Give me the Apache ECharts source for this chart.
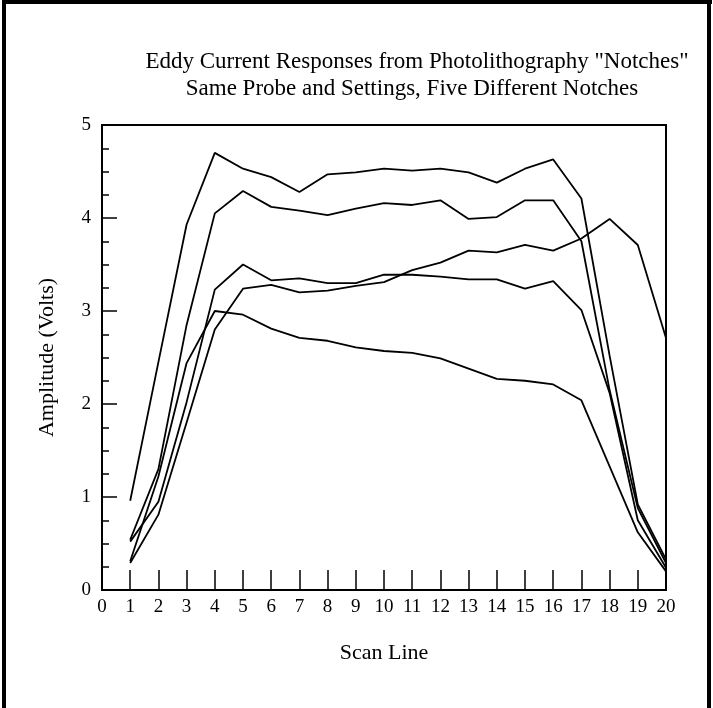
<!DOCTYPE html>
<html>
<head>
<meta charset="utf-8">
<script src="https://cdn.jsdelivr.net/npm/echarts@6/dist/echarts.min.js"></script>
<style>
  html, body { margin: 0; padding: 0; background: #fff; }
  #chart { width: 713px; height: 708px; }
</style>
</head>
<body>
<div id="chart"></div>
<script>
// scan line numbers
const scanLines = [1, 2, 3, 4, 5, 6, 7, 8, 9, 10, 11, 12, 13, 14, 15, 16, 17, 18, 19, 20]

// amplitude (volts) for the five notches
const notchA = [0.96, 2.45, 3.93, 4.70, 4.53, 4.44, 4.28, 4.47, 4.49, 4.53, 4.51, 4.53, 4.49, 4.38, 4.53, 4.63, 4.21, 2.52, 0.92, 0.33]
const notchB = [0.54, 1.30, 2.85, 4.05, 4.29, 4.12, 4.08, 4.03, 4.10, 4.16, 4.14, 4.19, 3.99, 4.01, 4.19, 4.19, 3.75, 2.15, 0.88, 0.29]
const notchC = [0.52, 0.95, 2.02, 3.23, 3.50, 3.33, 3.35, 3.30, 3.30, 3.39, 3.39, 3.37, 3.34, 3.34, 3.24, 3.32, 3.01, 2.12, 0.75, 0.24]
const notchD = [0.29, 0.81, 1.80, 2.80, 3.24, 3.28, 3.20, 3.22, 3.27, 3.31, 3.44, 3.52, 3.65, 3.63, 3.71, 3.65, 3.78, 3.99, 3.71, 2.71]
const notchE = [0.31, 1.22, 2.44, 3.00, 2.96, 2.81, 2.71, 2.68, 2.61, 2.57, 2.55, 2.49, 2.38, 2.27, 2.25, 2.21, 2.04, 1.33, 0.62, 0.20]

const titleLines = ['Eddy Current Responses from Photolithography "Notches"', 'Same Probe and Settings, Five Different Notches']

const font = '"Liberation Serif", "Times New Roman", serif'

function makeSeries(values) {
  return {
    type: 'line',
    data: scanLines.map((x, i) => [x, values[i]]),
    showSymbol: false,
    symbol: 'none',
    lineStyle: { color: '#000', width: 1.8 },
    animation: false
  }
}

const chart = echarts.init(document.getElementById('chart'))
chart.setOption({
  backgroundColor: '#fff',
  textStyle: { fontFamily: font, color: '#000' },
  graphic: [
    // frame round the figure
    { type: 'rect', shape: { x: 2, y: 0, width: 4, height: 708 }, style: { fill: '#000' } },
    { type: 'rect', shape: { x: 2, y: 0, width: 710, height: 4 }, style: { fill: '#000' } },
    { type: 'rect', shape: { x: 707, y: 0, width: 4, height: 708 }, style: { fill: '#000' } },
    {
      type: 'text',
      style: { text: titleLines[0], x: 417, y: 62, textAlign: 'center', textVerticalAlign: 'middle', font: '23px ' + font, fill: '#000' }
    },
    {
      type: 'text',
      style: { text: titleLines[1], x: 412, y: 89, textAlign: 'center', textVerticalAlign: 'middle', font: '23px ' + font, fill: '#000' }
    }
  ],
  grid: {
    left: 102, right: 47, top: 125, bottom: 118,
    show: true, borderColor: '#000', borderWidth: 2, backgroundColor: 'transparent'
  },
  xAxis: {
    type: 'value', min: 0, max: 20, interval: 1,
    name: 'Scan Line', nameLocation: 'middle', nameGap: 52,
    nameTextStyle: { fontFamily: font, fontSize: 22, color: '#000' },
    axisLine: { lineStyle: { color: '#000', width: 2 } },
    axisTick: { inside: true, length: 20, lineStyle: { color: '#000', width: 1.5 } },
    axisLabel: { fontFamily: font, fontSize: 19, color: '#000', margin: 8 },
    splitLine: { show: false }
  },
  yAxis: {
    type: 'value', min: 0, max: 5, interval: 1,
    name: 'Amplitude (Volts)', nameLocation: 'middle', nameGap: 44, nameRotate: 90,
    nameTextStyle: { fontFamily: font, fontSize: 22, color: '#000' },
    axisLine: { lineStyle: { color: '#000', width: 2 } },
    axisTick: { inside: true, length: 15, lineStyle: { color: '#000', width: 1.5 } },
    minorTick: { show: true, splitNumber: 4, length: 7, lineStyle: { color: '#000', width: 1.5 } },
    axisLabel: { fontFamily: font, fontSize: 19, color: '#000', margin: 11 },
    splitLine: { show: false }
  },
  series: [notchA, notchB, notchC, notchD, notchE].map(makeSeries)
})
</script>
</body>
</html>
